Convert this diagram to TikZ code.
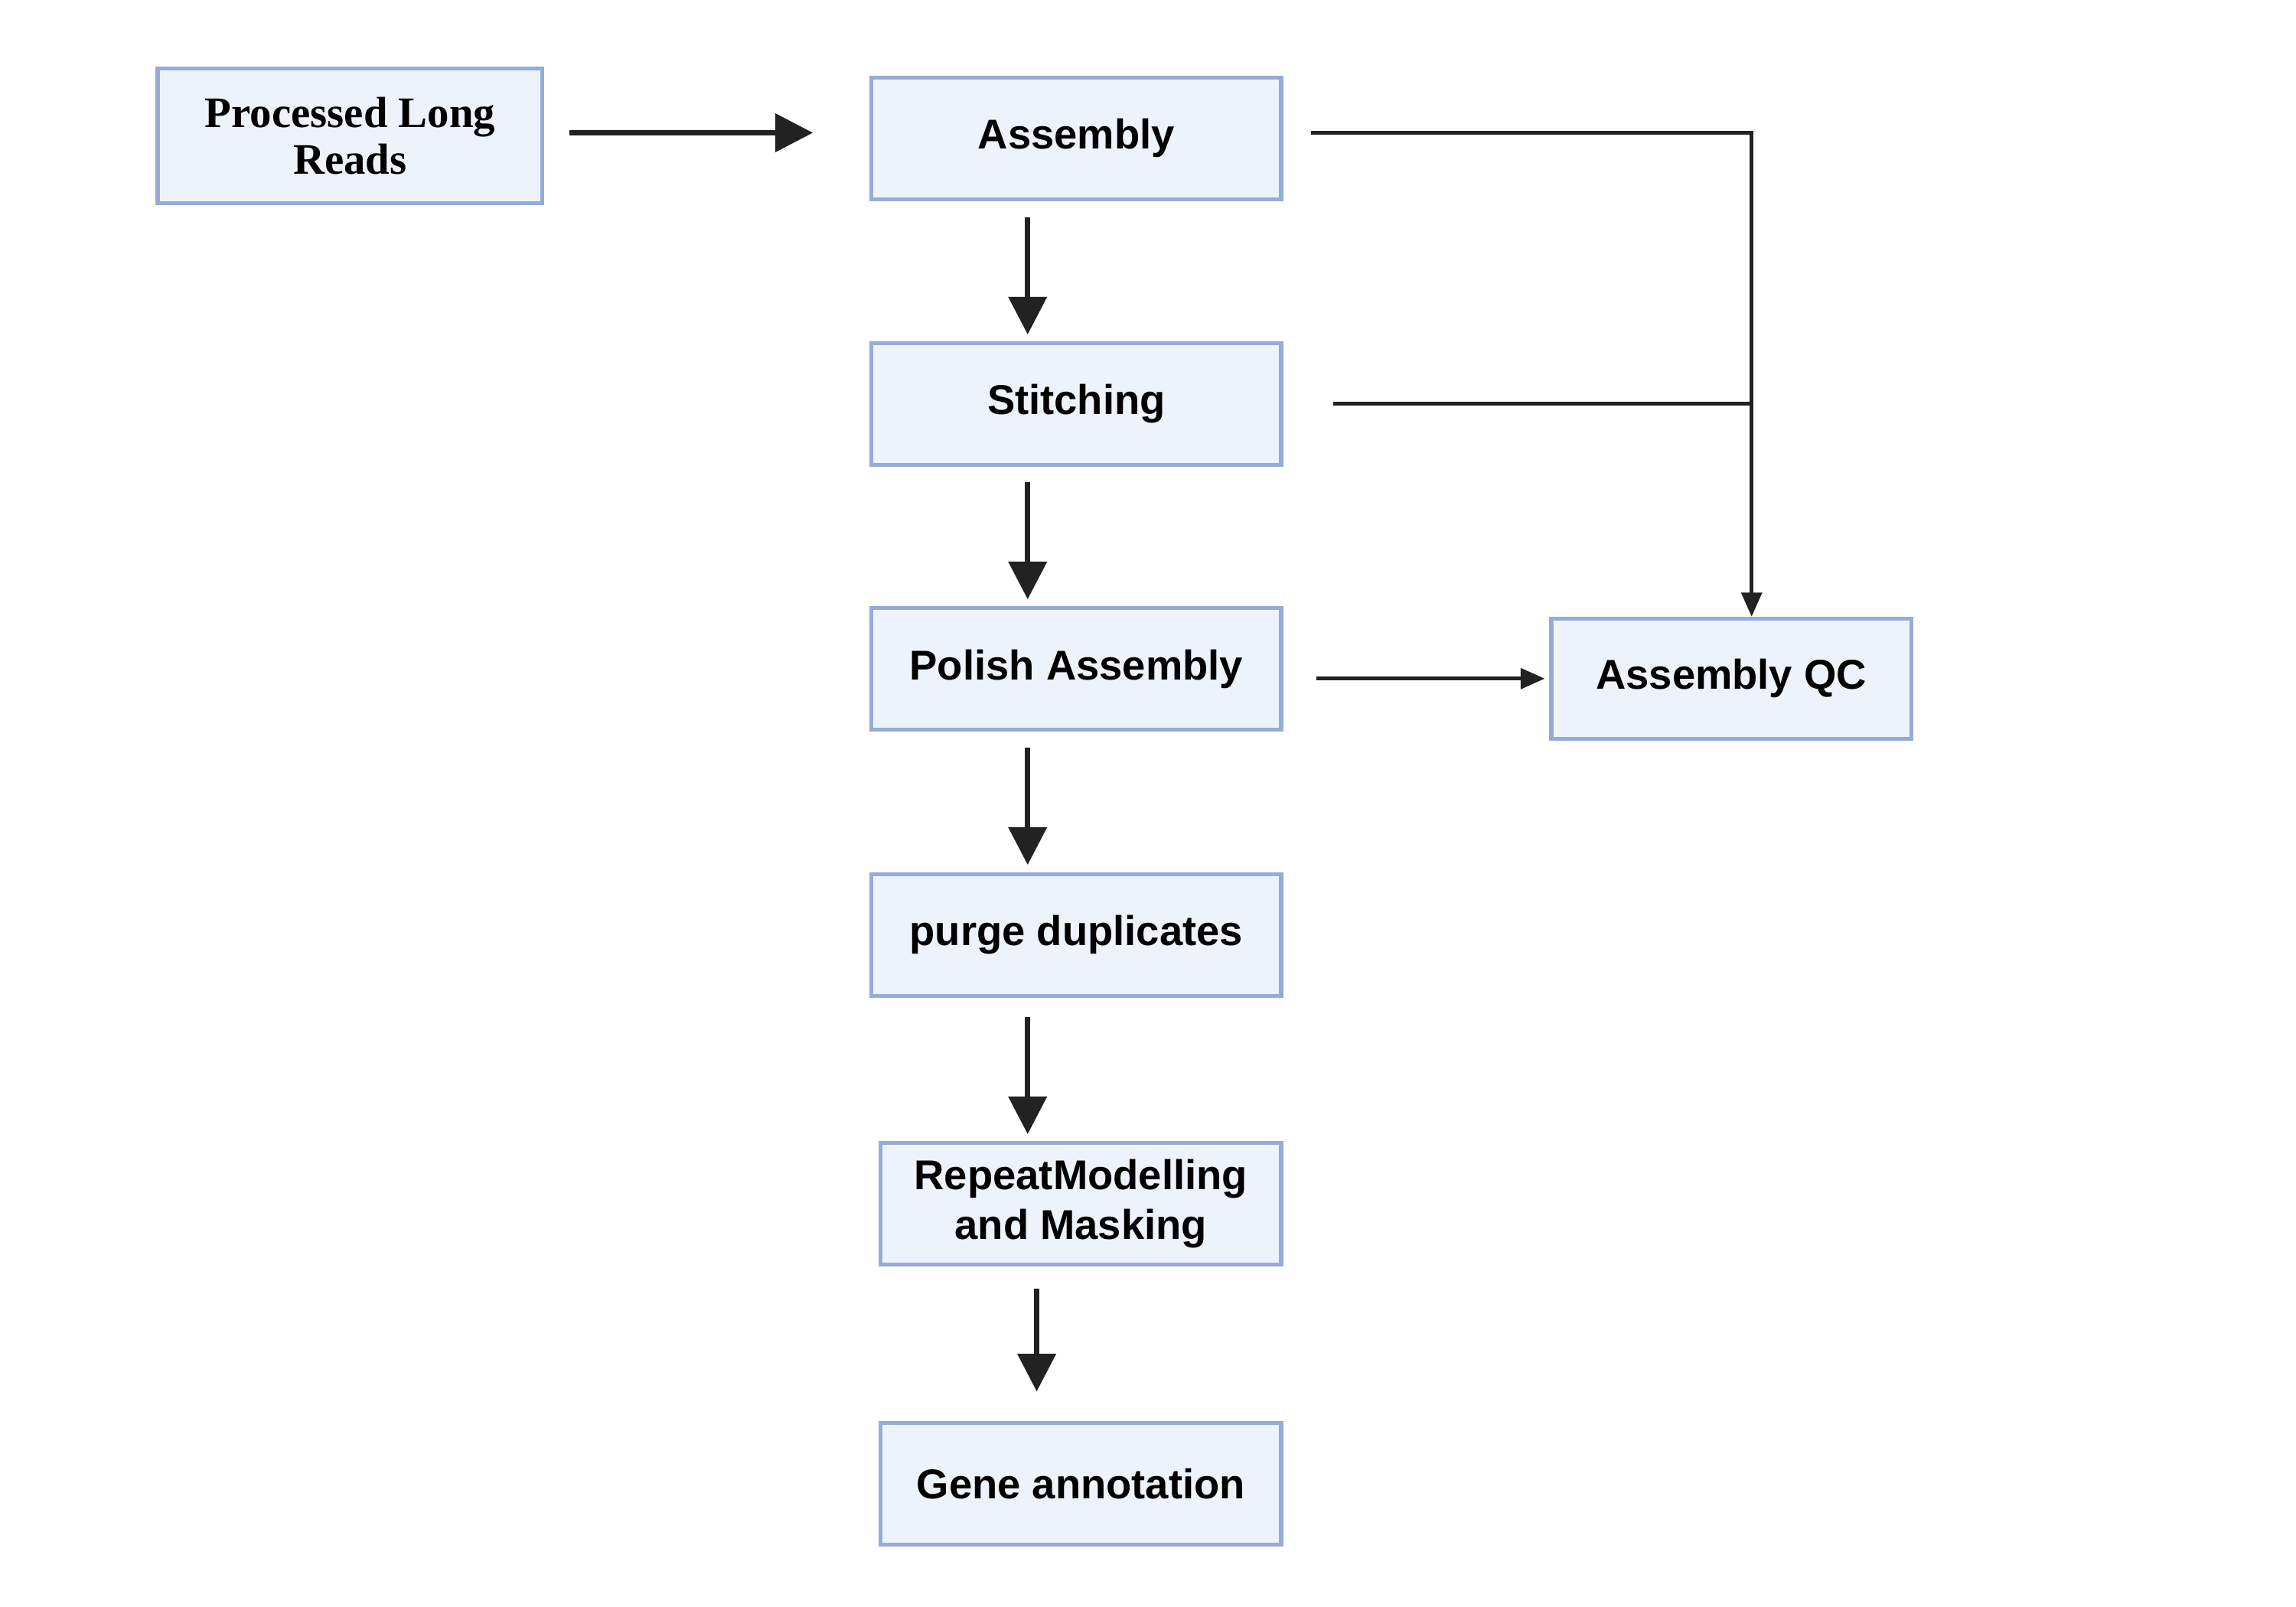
\documentclass[tikz,border=0pt]{standalone}
\usepackage{fontspec}
\setmainfont{Liberation Sans}
\newfontfamily\readsfont{Liberation Serif}
\usepackage{tikz}
\usetikzlibrary{arrows.meta, positioning, calc}
\definecolor{boxline}{RGB}{150,172,214}
\definecolor{boxfill}{RGB}{237,243,251}
\definecolor{arrowcolor}{RGB}{34,34,34}

\begin{document}
\begin{tikzpicture}[
    stage/.style={draw=boxline, line width=1.5pt, fill=boxfill, minimum width=#1, minimum height=1.61cm,
        inner sep=0pt, align=center, font=\fontsize{15.7}{18.8}\selectfont\bfseries},
    stage/.default=5.43cm,
    bigarrow/.style={-{Triangle[length=5mm, width=5mm]}, line width=2pt, draw=arrowcolor},
    qcline/.style={line width=1.4pt, draw=arrowcolor},
    qcarrow/.style={qcline, -{Triangle[length=3.2mm, width=2.7mm]}}
]
    \useasboundingbox (0,0) rectangle (30.43,-21.30);

    \node[stage=5.10cm, minimum height=1.78cm, font=\readsfont\fontsize{16.4}{17.6}\selectfont\bfseries] (reads) at (4.64,-1.80) {Processed Long\\Reads};
    \node[stage] (asm) at (14.265,-1.835) {Assembly};
    \node[stage] (stitch) at (14.265,-5.355) {Stitching};
    \node[stage] (polish) at (14.265,-8.865) {Polish Assembly};
    \node[stage] (purge) at (14.265,-12.395) {purge duplicates};
    \node[stage=5.31cm] (repeat) at (14.325,-15.955) {RepeatModelling\\and Masking};
    \node[stage=5.31cm] (gene) at (14.325,-19.665) {Gene annotation};
    \node[stage=4.77cm, minimum height=1.59cm] (qc) at (22.945,-8.995) {Assembly QC};

    % Main pipeline
    \draw[bigarrow, shorten <=0.33cm, shorten >=0.75cm] ([yshift=0.04cm]reads.east) -- ([yshift=0.04cm]reads.east -| asm.west);
    \draw[bigarrow, shorten <=0.21cm, shorten >=0.09cm] ([xshift=-0.645cm]asm.south) -- ([xshift=-0.645cm]stitch.north);
    \draw[bigarrow, shorten <=0.20cm, shorten >=0.09cm] ([xshift=-0.645cm]stitch.south) -- ([xshift=-0.645cm]polish.north);
    \draw[bigarrow, shorten <=0.21cm, shorten >=0.10cm] ([xshift=-0.645cm]polish.south) -- ([xshift=-0.645cm]purge.north);
    \draw[bigarrow, shorten <=0.25cm, shorten >=0.09cm] ([xshift=-0.645cm]purge.south) -- ([xshift=-0.705cm]repeat.north);
    \draw[bigarrow, shorten <=0.29cm, shorten >=0.39cm] ([xshift=-0.585cm]repeat.south) -- ([xshift=-0.585cm]gene.north);

    % Quality control
    \coordinate (qcin) at ([xshift=0.27cm]qc.north);
    \draw[qcarrow, shorten <=0.37cm] ([yshift=0.075cm]asm.east) -| (qcin);
    \draw[qcline, shorten <=0.66cm] ([yshift=0.005cm]stitch.east) -- ([yshift=0.005cm]stitch.east -| qcin);
    \draw[qcarrow, shorten <=0.44cm, shorten >=0.06cm] ([yshift=-0.13cm]polish.east) -- ([yshift=-0.13cm]polish.east -| qc.west);
\end{tikzpicture}
\end{document}
